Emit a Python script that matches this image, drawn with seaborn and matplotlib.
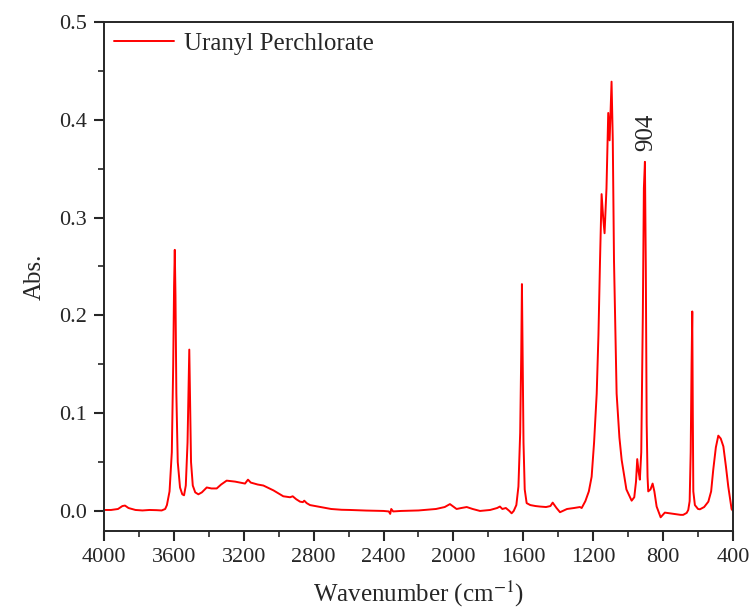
import pandas as pd
import seaborn as sns
import matplotlib.pyplot as plt
from matplotlib.ticker import MultipleLocator

# spectrum: wavenumber (cm-1) and absorbance
wavenumber = [4000, 3960, 3920, 3895, 3880, 3860, 3820, 3780, 3740, 3700, 3670, 3650,
              3640, 3625, 3612, 3604, 3599, 3595, 3591, 3586, 3578, 3565, 3552, 3542,
              3532, 3522, 3516, 3512, 3508, 3502, 3492, 3478, 3460, 3440, 3412, 3385,
              3355, 3330, 3298, 3250, 3193, 3176, 3160, 3120, 3088, 3030, 2974, 2935,
              2920, 2900, 2878, 2862, 2854, 2840, 2821, 2760, 2700, 2640, 2592, 2500,
              2400, 2370, 2362, 2356, 2345, 2300, 2200, 2100, 2050, 2020, 1982, 1955,
              1924, 1890, 1848, 1790, 1750, 1734, 1720, 1700, 1680, 1667, 1655, 1640,
              1628, 1618, 1612, 1608, 1604, 1599, 1592, 1581, 1560, 1530, 1505, 1470,
              1445, 1432, 1410, 1390, 1350, 1310, 1276, 1266, 1245, 1225, 1209, 1195,
              1180, 1170, 1161, 1152, 1143, 1135, 1124, 1114, 1106, 1095, 1088, 1081,
              1066, 1050, 1037, 1010, 980, 965, 955, 948, 940, 933, 925, 916, 910, 904,
              899, 894, 889, 885, 872, 860, 850, 837, 814, 790, 740, 700, 685, 665,
              656, 648, 642, 637, 633, 630, 627, 618, 600, 589, 565, 541, 525, 513,
              498, 484, 470, 455, 440, 427, 415, 408, 400]
absorbance = [0.001, 0.001, 0.002, 0.005, 0.0055, 0.003, 0.001, 0.0005, 0.001, 0.0008, 0.0005, 0.002,
              0.006, 0.02, 0.06, 0.15, 0.23, 0.267, 0.22, 0.12, 0.05, 0.024, 0.017, 0.016,
              0.026, 0.07, 0.13, 0.165, 0.12, 0.05, 0.026, 0.019, 0.017, 0.019, 0.024, 0.023,
              0.023, 0.027, 0.031, 0.030, 0.028, 0.032, 0.029, 0.027, 0.026, 0.021, 0.015, 0.014,
              0.015, 0.012, 0.0095, 0.009, 0.0105, 0.008, 0.006, 0.004, 0.002, 0.0012, 0.001, 0.0004,
              0.0, -0.0005, -0.003, 0.002, -0.0005, 0.0, 0.0005, 0.002, 0.004, 0.007, 0.002, 0.003,
              0.004, 0.002, 0.0, 0.001, 0.003, 0.0045, 0.002, 0.003, 0.0, -0.0024, 0.0, 0.006,
              0.025, 0.08, 0.16, 0.232, 0.16, 0.07, 0.022, 0.008, 0.006, 0.005, 0.0045, 0.004,
              0.005, 0.0085, 0.003, -0.0013, 0.002, 0.003, 0.004, 0.003, 0.01, 0.02, 0.035, 0.07,
              0.12, 0.18, 0.256, 0.324, 0.3, 0.284, 0.33, 0.407, 0.379, 0.439, 0.38, 0.256,
              0.12, 0.075, 0.052, 0.022, 0.0105, 0.014, 0.03, 0.053, 0.04, 0.032, 0.06, 0.2, 0.33, 0.357,
              0.25, 0.09, 0.035, 0.02, 0.022, 0.028, 0.02, 0.0045, -0.0065, -0.0017, -0.003, -0.004, -0.004, -0.002,
              0.001, 0.01, 0.06, 0.15, 0.204, 0.1, 0.02, 0.006, 0.002, 0.0017, 0.004, 0.0095, 0.02, 0.042,
              0.065, 0.077, 0.074, 0.066, 0.045, 0.025, 0.01, 0.002, 0.0]

df = pd.DataFrame({"wn": wavenumber, "A": absorbance})

sns.set_style("ticks")
plt.rcParams['font.family'] = ['Liberation Serif', 'DejaVu Serif']
plt.rcParams['mathtext.fontset'] = 'stix'

fig = plt.figure(figsize=(7.5, 6.15), dpi=100)
ax = fig.add_axes([0.1387, 0.1366, 0.8386, 0.8276])

sns.lineplot(data=df, x="wn", y="A", sort=False, color="#ff0000", linewidth=1.4,
             label="Uranyl Perchlorate", ax=ax)

ax.set_xlim(4000, 400)
ax.set_ylim(-0.0205, 0.5)
ax.xaxis.set_major_locator(MultipleLocator(400))
ax.xaxis.set_minor_locator(MultipleLocator(200))
ax.yaxis.set_major_locator(MultipleLocator(0.1))
ax.yaxis.set_minor_locator(MultipleLocator(0.05))
ax.yaxis.set_major_formatter(plt.FormatStrFormatter('%.1f'))
ax.tick_params(which='major', length=7, width=1.5, labelsize=16, pad=5)
ax.tick_params(which='minor', length=4, width=1.2)
for s in ax.spines.values():
    s.set_linewidth(1.4)

ax.set_xlabel("Wavenumber (cm$^{-1}$)", fontsize=18, labelpad=9)
ax.set_ylabel("Abs.", fontsize=18, labelpad=10)

ax.text(894, 0.387, "904", rotation=90, ha='center', va='center', fontsize=18)

ax.legend(loc='upper left', frameon=False, fontsize=18, handlelength=2.4,
          borderaxespad=0.1, handletextpad=0.4, borderpad=0.3)

fig.savefig("out.png", dpi=100)
